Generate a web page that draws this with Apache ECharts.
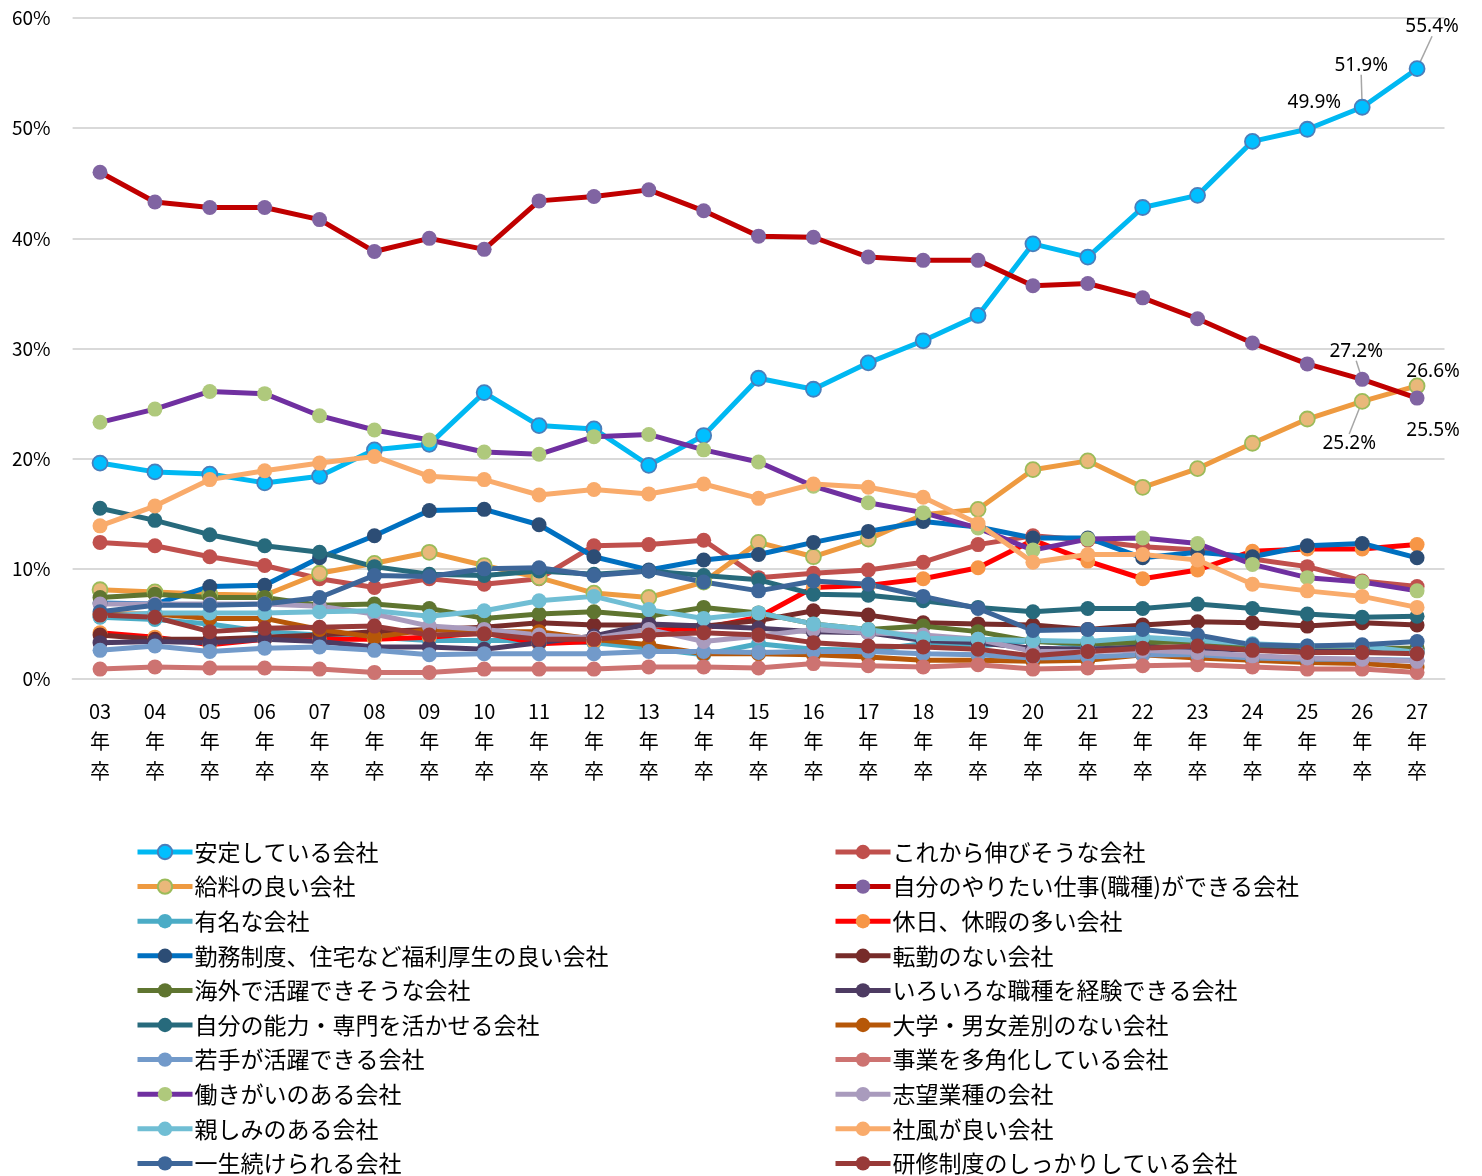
<!DOCTYPE html>
<html>
<head>
<meta charset="utf-8">
<script src="https://cdn.jsdelivr.net/npm/echarts@6/dist/echarts.min.js"></script>
<style>
    html, body { margin: 0; padding: 0; background: #fff; }
    #chart { width: 1482px; height: 1176px; }
</style>
</head>
<body>
<div id="chart"></div>
<script>
    // 卒業年
    var years = ['03年卒', '04年卒', '05年卒', '06年卒', '07年卒', '08年卒', '09年卒', '10年卒', '11年卒', '12年卒', '13年卒', '14年卒', '15年卒',
        '16年卒', '17年卒', '18年卒', '19年卒', '20年卒', '21年卒', '22年卒', '23年卒', '24年卒', '25年卒', '26年卒', '27年卒'];
    var yTicks = [0, 10, 20, 30, 40, 50, 60];

    // 各項目の値(%)
    var antei = [19.6, 18.8, 18.6, 17.8, 18.4, 20.8, 21.3, 26.0, 23.0, 22.7, 19.4, 22.1, 27.3, 26.3, 28.7, 30.7, 33.0, 39.5, 38.3, 42.8, 43.9, 48.8, 49.9, 51.9, 55.4];
    var korekara = [12.4, 12.1, 11.1, 10.3, 9.1, 8.3, 9.1, 8.6, 9.1, 12.1, 12.2, 12.6, 9.2, 9.6, 9.9, 10.6, 12.2, 13.0, 12.6, 12.0, 11.7, 10.9, 10.2, 8.9, 8.4];
    var kyuryo = [8.1, 7.9, 7.7, 7.6, 9.6, 10.5, 11.5, 10.3, 9.2, 7.8, 7.4, 8.8, 12.4, 11.1, 12.7, 14.9, 15.4, 19.0, 19.8, 17.4, 19.1, 21.4, 23.6, 25.2, 26.6];
    var yaritai = [46.0, 43.3, 42.8, 42.8, 41.7, 38.8, 40.0, 39.0, 43.4, 43.8, 44.4, 42.5, 40.2, 40.1, 38.3, 38.0, 38.0, 35.7, 35.9, 34.6, 32.7, 30.5, 28.6, 27.2, 25.5];
    var yumei = [5.6, 5.4, 5.0, 4.3, 4.0, 3.8, 3.5, 3.5, 3.5, 3.3, 2.8, 2.2, 3.2, 2.7, 2.6, 3.2, 3.0, 3.5, 3.0, 3.6, 3.2, 2.8, 2.8, 2.7, 2.7];
    var kyujitsu = [4.2, 3.8, 3.1, 3.6, 3.6, 3.6, 3.8, 4.2, 3.2, 3.4, 4.4, 4.6, 5.6, 8.3, 8.5, 9.1, 10.1, 12.6, 10.7, 9.1, 9.9, 11.6, 11.8, 11.8, 12.2];
    var kinmu = [6.9, 6.8, 8.4, 8.5, 11.0, 13.0, 15.3, 15.4, 14.0, 11.1, 9.9, 10.8, 11.3, 12.4, 13.4, 14.3, 13.8, 12.8, 12.8, 11.0, 11.5, 11.1, 12.1, 12.3, 11.0];
    var tenkin = [4.0, 3.6, 3.6, 3.8, 4.0, 4.3, 4.5, 4.7, 5.1, 4.9, 4.9, 4.8, 5.3, 6.2, 5.8, 5.1, 5.0, 4.9, 4.5, 4.9, 5.2, 5.1, 4.8, 5.1, 4.9];
    var kaigai = [7.4, 7.7, 7.4, 7.4, 6.7, 6.8, 6.4, 5.5, 5.9, 6.1, 5.7, 6.5, 6.0, 5.0, 4.5, 4.8, 4.3, 3.4, 3.2, 3.3, 3.4, 3.0, 2.9, 2.8, 2.8];
    var iroiro = [3.3, 3.4, 3.3, 3.6, 3.4, 2.9, 2.9, 2.7, 3.3, 3.9, 5.0, 4.8, 4.6, 4.3, 4.2, 3.5, 3.3, 2.8, 2.7, 2.9, 2.8, 2.6, 2.5, 2.5, 2.4];
    var noryoku = [15.5, 14.4, 13.1, 12.1, 11.5, 10.2, 9.5, 9.4, 9.8, 9.5, 9.8, 9.4, 9.0, 7.7, 7.6, 7.1, 6.5, 6.1, 6.4, 6.4, 6.8, 6.4, 5.9, 5.6, 5.7];
    var daigaku = [5.9, 5.9, 5.5, 5.5, 4.5, 3.8, 4.5, 4.3, 4.3, 3.6, 3.1, 2.3, 2.3, 2.2, 2.0, 1.7, 1.7, 1.6, 1.7, 2.2, 1.9, 1.7, 1.5, 1.4, 1.1];
    var wakate = [2.6, 3.0, 2.5, 2.8, 2.9, 2.6, 2.2, 2.3, 2.3, 2.3, 2.5, 2.5, 2.4, 2.5, 2.5, 2.3, 2.2, 1.9, 2.0, 2.2, 2.2, 1.9, 1.8, 1.8, 1.7];
    var jigyo = [0.9, 1.1, 1.0, 1.0, 0.9, 0.6, 0.6, 0.9, 0.9, 0.9, 1.1, 1.1, 1.0, 1.4, 1.2, 1.1, 1.3, 0.9, 1.0, 1.2, 1.3, 1.1, 0.9, 0.9, 0.6];
    var hatarakigai = [23.3, 24.5, 26.1, 25.9, 23.9, 22.6, 21.7, 20.6, 20.4, 22.0, 22.2, 20.8, 19.7, 17.5, 16.0, 15.1, 13.7, 11.7, 12.7, 12.8, 12.3, 10.4, 9.2, 8.8, 8.0];
    var shibo = [6.8, 6.8, 6.8, 6.8, 6.6, 5.9, 4.8, 4.5, 4.0, 3.7, 4.5, 3.4, 3.9, 4.5, 4.2, 4.0, 3.6, 2.5, 2.5, 2.6, 2.4, 2.1, 1.9, 1.8, 1.6];
    var shitashimi = [5.7, 6.0, 6.0, 6.0, 6.1, 6.2, 5.7, 6.2, 7.1, 7.5, 6.3, 5.5, 6.0, 5.0, 4.5, 3.7, 3.6, 3.5, 3.4, 3.8, 3.5, 3.2, 3.0, 3.0, 2.4];
    var shafu = [13.9, 15.7, 18.1, 18.9, 19.6, 20.2, 18.4, 18.1, 16.7, 17.2, 16.8, 17.7, 16.4, 17.7, 17.4, 16.5, 14.1, 10.6, 11.3, 11.3, 10.8, 8.6, 8.0, 7.5, 6.5];
    var issho = [6.1, 6.7, 6.7, 6.8, 7.4, 9.4, 9.3, 10.0, 10.1, 9.4, 9.8, 8.8, 8.0, 8.9, 8.6, 7.5, 6.4, 4.4, 4.5, 4.5, 4.0, 3.1, 3.0, 3.1, 3.4];
    var kenshu = [5.8, 5.6, 4.3, 4.6, 4.7, 4.8, 4.0, 4.1, 3.6, 3.6, 4.0, 4.2, 4.0, 3.3, 3.0, 2.9, 2.7, 2.1, 2.5, 2.8, 3.0, 2.6, 2.4, 2.4, 2.3];

    // 値ラベルを付ける点 (系列名 -> dataIndex: [dx, dy, 引出線])
    var labelOffsets = {
        '安定している会社': { 22: [7, -4, false], 23: [-1, -19, true], 24: [15, -19, true] },
        '自分のやりたい仕事(職種)ができる会社': { 23: [-6, -6, true], 24: [16, 55, false] },
        '給料の良い会社': { 23: [-13, 65, true], 24: [16, 9, false] }
    };

    var FONT = '"Noto Sans CJK JP", "Noto Sans", sans-serif';

    // [名前, データ, 線色, マーカー色, マーカー枠色]
    var seriesDefs = [
        ['安定している会社', antei, '#00B8F2', '#00BFFF', '#4A7EBB'],
        ['これから伸びそうな会社', korekara, '#C0504D', '#C0504D', null],
        ['給料の良い会社', kyuryo, '#EE9A40', '#E9B87A', '#9BBB59'],
        ['自分のやりたい仕事(職種)ができる会社', yaritai, '#C00000', '#8064A2', null],
        ['有名な会社', yumei, '#4BACC6', '#4BACC6', null],
        ['休日、休暇の多い会社', kyujitsu, '#FF0000', '#F79646', null],
        ['勤務制度、住宅など福利厚生の良い会社', kinmu, '#0070C0', '#2C4D75', null],
        ['転勤のない会社', tenkin, '#772C2A', '#772C2A', null],
        ['海外で活躍できそうな会社', kaigai, '#5F7530', '#5F7530', null],
        ['いろいろな職種を経験できる会社', iroiro, '#4D3B62', '#4D3B62', null],
        ['自分の能力・専門を活かせる会社', noryoku, '#276A7C', '#276A7C', null],
        ['大学・男女差別のない会社', daigaku, '#B65708', '#B65708', null],
        ['若手が活躍できる会社', wakate, '#729ACA', '#729ACA', null],
        ['事業を多角化している会社', jigyo, '#CD7371', '#CD7371', null],
        ['働きがいのある会社', hatarakigai, '#7030A0', '#AFC97C', null],
        ['志望業種の会社', shibo, '#A99BBD', '#A99BBD', null],
        ['親しみのある会社', shitashimi, '#70BED4', '#70BED4', null],
        ['社風が良い会社', shafu, '#F9AB6B', '#F9AB6B', null],
        ['一生続けられる会社', issho, '#3D6699', '#3D6699', null],
        ['研修制度のしっかりしている会社', kenshu, '#983A38', '#983A38', null]
    ];

    var leftNames = [], rightNames = [];
    var series = seriesDefs.map(function (d, i) {
        (i % 2 == 0 ? leftNames : rightNames).push(d[0]);
        var offs = labelOffsets[d[0]] || {};
        var data = d[1].map(function (v, idx) {
            if (offs[idx]) {
                return {
                    value: v,
                    label: { show: true },
                    labelLine: { show: offs[idx][2] }
                };
            }
            return v;
        });
        return {
            name: d[0],
            type: 'line',
            data: data,
            symbol: 'circle',
            symbolSize: 15,
            lineStyle: { color: d[2], width: 5 },
            itemStyle: {
                color: d[3],
                borderColor: d[4] || d[3],
                borderWidth: d[4] ? 1.8 : 0
            },
            emphasis: { disabled: true },
            label: {
                show: false,
                position: 'top',
                formatter: function (p) { return p.value.toFixed(1) + '%'; },
                fontSize: 19,
                color: '#000',
                fontFamily: '"Noto Sans", sans-serif'
            },
            labelLine: { show: false, lineStyle: { color: '#A6A6A6', width: 1.5 } },
            labelLayout: function (params) {
                var o = offs[params.dataIndex];
                if (!o) return {};
                return { dx: o[0], dy: o[1] };
            },
            z: 2
        };
    });

    var legendCommon = {
        orient: 'vertical',
        top: 840,
        bottom: 0,
        padding: 0,
        itemWidth: 55,
        itemHeight: 18,
        itemGap: 10.6,
        lineStyle: { width: 5 },
        textStyle: { fontSize: 23, lineHeight: 24, color: '#000', fontFamily: FONT, padding: [0, 0, 0, -3] }
    };

    var option = {
        animation: false,
        backgroundColor: '#fff',
        grid: { left: 72.6, right: 37.5, top: 18, bottom: 497 },
        legend: [
            Object.assign({ left: 135, data: leftNames }, legendCommon),
            Object.assign({ left: 833, data: rightNames }, legendCommon)
        ],
        xAxis: {
            type: 'category',
            data: years,
            boundaryGap: true,
            axisLine: { show: true, lineStyle: { color: '#D9D9D9', width: 2 } },
            axisTick: { show: false },
            axisLabel: {
                interval: 0,
                margin: 17,
                fontSize: 20,
                lineHeight: 30,
                color: '#000',
                fontFamily: FONT,
                formatter: function (v) {
                    return v.substring(0, 2) + '\n' + v.substring(2, 3) + '\n' + v.substring(3);
                }
            }
        },
        yAxis: {
            type: 'value',
            min: yTicks[0],
            max: yTicks[yTicks.length - 1],
            interval: 10,
            axisLine: { show: false },
            axisTick: { show: false },
            splitLine: { lineStyle: { color: '#D9D9D9', width: 2 } },
            axisLabel: {
                margin: 22,
                fontSize: 19,
                color: '#000',
                fontFamily: FONT,
                formatter: '{value}%'
            }
        },
        series: series
    };

    var myChart = echarts.init(document.getElementById('chart'));
    myChart.setOption(option);
</script>
</body>
</html>
